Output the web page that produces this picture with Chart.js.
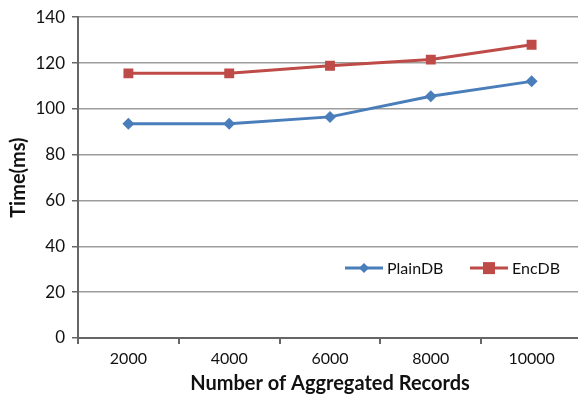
<!DOCTYPE html>
<html>
<head>
<meta charset="utf-8">
<script src="https://cdn.jsdelivr.net/npm/chart.js@4"></script>
<style>
  html, body { margin: 0; padding: 0; background: #fff; overflow: hidden; }
  #wrap { width: 589px; height: 401px; position: relative; }
</style>
</head>
<body>
<div id="wrap"><canvas id="grafico"></canvas></div>
<script>
// dados
const registros = ["2000", "4000", "6000", "8000", "10000"];
const plainDB = [93.5, 93.5, 96.5, 105.5, 112];
const encDB = [115.5, 115.5, 118.8, 121.5, 128];
const ticksY = [0, 20, 40, 60, 80, 100, 120, 140];

const azul = "#4a7ebb";
const vermelho = "#be4b48";
const fonte = "Lato, 'Open Sans', sans-serif";

// legenda desenhada dentro da área do gráfico
const legendaInterna = {
  id: "legendaInterna",
  afterDraw(chart) {
    const ctx = chart.ctx;
    const y = chart.scales.y.getPixelForValue(30.5);
    const itens = [
      { x: 345, texto: "PlainDB", cor: azul, forma: "diamante" },
      { x: 470, texto: "EncDB", cor: vermelho, forma: "quadrado" },
    ];
    ctx.save();
    itens.forEach((it) => {
      ctx.strokeStyle = it.cor;
      ctx.lineWidth = 3;
      ctx.beginPath();
      ctx.moveTo(it.x, y);
      ctx.lineTo(it.x + 38, y);
      ctx.stroke();
      ctx.fillStyle = it.cor;
      const cx = it.x + 19;
      if (it.forma === "diamante") {
        ctx.beginPath();
        ctx.moveTo(cx, y - 5);
        ctx.lineTo(cx + 5, y);
        ctx.lineTo(cx, y + 5);
        ctx.lineTo(cx - 5, y);
        ctx.closePath();
        ctx.fill();
      } else {
        ctx.fillRect(cx - 6, y - 6, 12, 12);
      }
      ctx.fillStyle = "#111";
      ctx.font = "16px " + fonte;
      ctx.textBaseline = "middle";
      ctx.fillText(it.texto, it.x + 42, y + 1);
    });
    ctx.restore();
  },
};

const ctxGrafico = document.getElementById("grafico").getContext("2d");
const grafico = new Chart(ctxGrafico, {
  type: "line",
  data: {
    labels: registros,
    datasets: [
      {
        label: "PlainDB",
        data: plainDB,
        borderColor: azul,
        backgroundColor: azul,
        borderWidth: 3,
        pointStyle: "rectRot",
        pointRadius: 6,
        pointBorderWidth: 0,
        tension: 0,
      },
      {
        label: "EncDB",
        data: encDB,
        borderColor: vermelho,
        backgroundColor: vermelho,
        borderWidth: 3,
        pointStyle: "rect",
        pointRadius: 7,
        pointBorderWidth: 0,
        tension: 0,
      },
    ],
  },
  options: {
    responsive: true,
    maintainAspectRatio: false,
    animation: false,
    layout: { padding: { top: 8, left: 0, right: 0, bottom: 0 } },
    plugins: {
      legend: { display: false },
      tooltip: { enabled: false },
    },
    scales: {
      x: {
        offset: true,
        grid: {
          offset: true,
          drawOnChartArea: false,
          drawTicks: true,
          tickLength: 6,
          color: "#666",
          lineWidth: 2,
        },
        border: { color: "#666", width: 2 },
        ticks: { color: "#111", font: { family: fonte, size: 16 }, padding: 5 },
        title: {
          display: true,
          text: "Number of Aggregated Records",
          color: "#111",
          font: { family: fonte, size: 20, weight: "bold" },
          padding: { top: 0, bottom: 5 },
        },
        afterFit(scale) {
          scale.height = 63;
        },
      },
      y: {
        min: 0,
        max: 140,
        afterBuildTicks(scale) {
          scale.ticks = ticksY.map((v) => ({ value: v }));
        },
        grid: {
          color: "#9c9c9c",
          lineWidth: 1.5,
          tickLength: 6,
          tickColor: "#666",
        },
        border: { color: "#666", width: 2 },
        ticks: { color: "#111", font: { family: fonte, size: 17 }, padding: 7 },
        title: {
          display: true,
          text: "Time(ms)",
          color: "#111",
          font: { family: fonte, size: 20, weight: "bold" },
          padding: { top: 7, bottom: 0 },
        },
        afterFit(scale) {
          scale.width = 78;
        },
      },
    },
  },
  plugins: [legendaInterna],
});
</script>
</body>
</html>
